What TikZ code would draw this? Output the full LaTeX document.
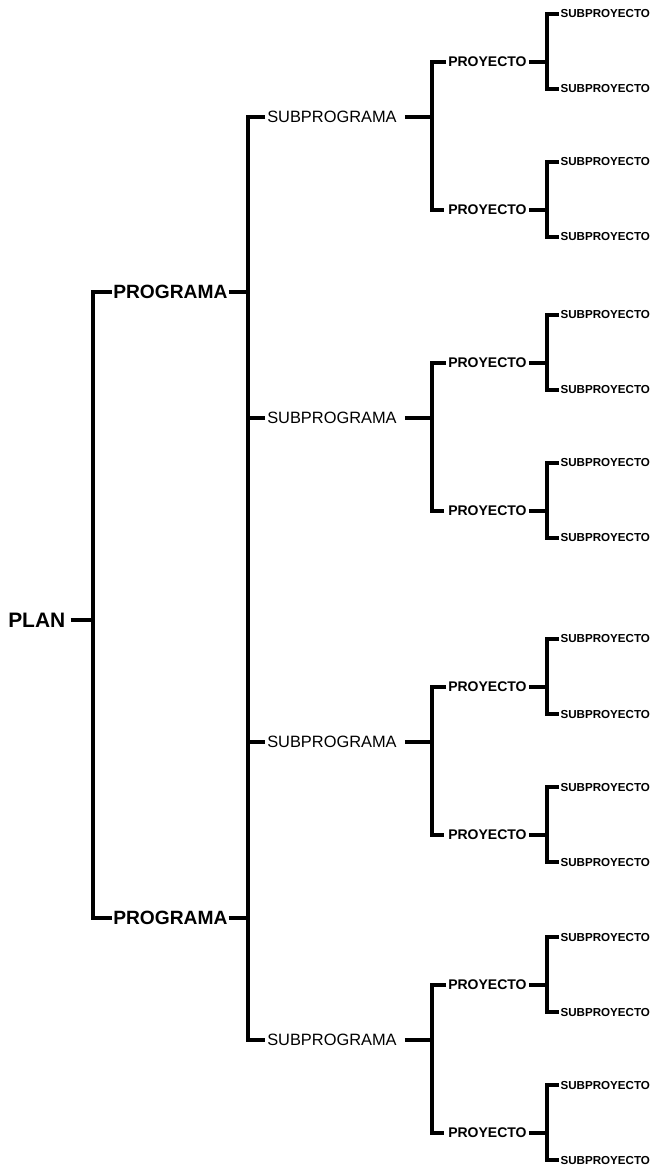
\documentclass[tikz,border=0pt]{standalone}
\usepackage{fontspec}
\setmainfont{Liberation Sans}

\tikzset{
  rama/.style={line width=2.6pt, line join=miter},
  plan/.style={font=\fontsize{15.7}{16}\selectfont\bfseries, anchor=west, inner xsep=3.75pt, inner ysep=0pt},
  prog/.style={font=\fontsize{14.4}{15}\selectfont\bfseries, anchor=west, inner xsep=0.75pt, inner ysep=0pt},
  subprog/.style={font=\fontsize{12.3}{13}\selectfont, anchor=west, inner xsep=1.5pt, inner ysep=0pt},
  proy/.style={font=\fontsize{10.5}{11}\selectfont\bfseries, anchor=west, inner xsep=1.5pt, inner ysep=0pt},
  subproy/.style={font=\fontsize{8.7}{9}\selectfont\bfseries, anchor=west, inner xsep=1pt, inner ysep=0pt}
}

\begin{document}
\begin{tikzpicture}[x=0.75pt, y=-0.75pt]
    \useasboundingbox (0,0) rectangle (656,1170);

    % Bars
    \coordinate (b0) at (93,0);
    \coordinate (b1) at (248,0);
    \coordinate (b2) at (432,0);
    \coordinate (b3) at (547,0);

    % Plan
    \node[plan] (plan) at (3,620) {PLAN};
    \draw[rama] (plan.east) -- (plan.east -| b0);

    % Programas
    \node[prog] (prog1) at (112,292) {PROGRAMA};
    \node[prog] (prog2) at (112,918) {PROGRAMA};
    \draw[rama] (prog1.west) -- (prog1.west -| b0) -- (prog2.west -| b0) -- (prog2.west);
    \draw[rama] (prog1.east) -- (prog1.east -| b1);
    \draw[rama] (prog2.east) -- (prog2.east -| b1);

    % Subprogramas, proyectos and subproyectos
    \foreach \y [count=\i] in {117,418,742,1040} {
        \node[subprog] (sub\i) at (265,\y) {SUBPROGRAMA};
        \draw[rama, shorten <=4.5pt] (sub\i.east) -- (sub\i.east -| b2);
        \foreach \p/\d in {a/-55,b/93} {
            \node[proy] (proy\i\p) at (446,\y+\d) {PROYECTO};
            \node[subproy] (sp\i\p1) at (559,\y+\d-48) {SUBPROYECTO};
            \node[subproy] (sp\i\p2) at (559,\y+\d+27) {SUBPROYECTO};
            \draw[rama] (proy\i\p.east) -- (proy\i\p.east -| b3);
            \draw[rama] (sp\i\p1.west) -- (sp\i\p1.west -| b3) -- (sp\i\p2.west -| b3) -- (sp\i\p2.west);
        }
        \draw[rama, shorten >=1.5pt] (proy\i a.west) -- (proy\i a.west -| b2) -- (proy\i b.west -| b2) -- (proy\i b.west);
    }
    \draw[rama] (sub1.west) -- (sub1.west -| b1) -- (sub4.west -| b1) -- (sub4.west);
    \draw[rama] (sub2.west) -- (sub2.west -| b1);
    \draw[rama] (sub3.west) -- (sub3.west -| b1);
\end{tikzpicture}
\end{document}
